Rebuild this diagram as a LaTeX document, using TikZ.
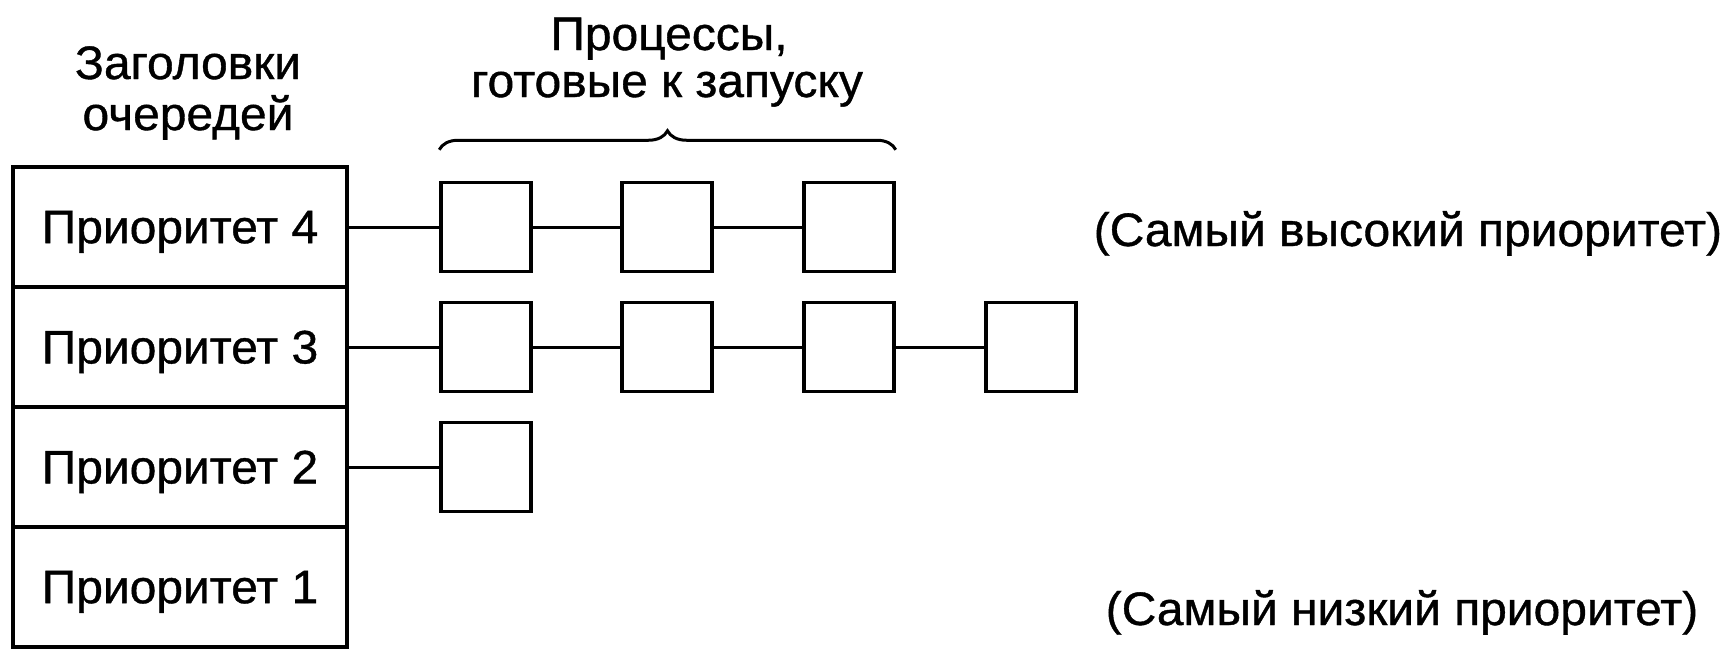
\documentclass[tikz,border=0pt]{standalone}
\usepackage{fontspec}
\setmainfont[FakeBold=0.8,FakeStretch=1.02]{Liberation Sans}
\usetikzlibrary{decorations.pathreplacing}
\begin{document}
\begin{tikzpicture}[x=1pt,y=-1pt,line width=3.5pt,
  hdr/.style={draw, minimum width=334pt, minimum height=120pt, inner sep=0pt,
              text depth=0pt, font=\fontsize{47}{56}\selectfont},
  proc/.style={draw, minimum width=90pt, minimum height=89pt, inner sep=0pt},
  lbl/.style={inner sep=0pt, font=\fontsize{47}{56}\selectfont},
  link/.style={line width=3pt},
  bracestyle/.style={line width=3pt, decorate, decoration={brace, amplitude=19pt}}]
\useasboundingbox[fill=white] (0,0) rectangle (1735,648);
% queue headers
\node[hdr] (p4) at (180,227) {Приоритет 4};
\node[hdr] (p3) at (180,347) {Приоритет 3};
\node[hdr] (p2) at (180,467) {Приоритет 2};
\node[hdr] (p1) at (180,587) {Приоритет 1};
% processes
\node[proc] (a1) at (486,227) {};
\node[proc] (a2) at (667,227) {};
\node[proc] (a3) at (849,227) {};
\node[proc] (b1) at (486,347) {};
\node[proc] (b2) at (667,347) {};
\node[proc] (b3) at (849,347) {};
\node[proc] (b4) at (1031,347) {};
\node[proc] (c1) at (486,467) {};
% links
\draw[link] (p4.east) -- (a1.west) (a1.east) -- (a2.west) (a2.east) -- (a3.west);
\draw[link] (p3.east) -- (b1.west) (b1.east) -- (b2.west) (b2.east) -- (b3.west) (b3.east) -- (b4.west);
\draw[link] (p2.east) -- (c1.west);
% brace
\coordinate (bl) at ([yshift=31pt]a1.north west);
\coordinate (br) at ([yshift=31pt]a3.north east);
\draw[bracestyle] (bl) -- (br);
% titles
\node[lbl, anchor=base] (h1) at (188,79) {Заголовки};
\node[lbl, anchor=base] (h2) at (188,130) {очередей};
\node[lbl, anchor=base] (r1) at (669,50) {Процессы,};
\node[lbl, anchor=base] (r2) at (667,97) {готовые к запуску};
% side notes
\node[lbl, anchor=base west] (hi) at (1092,246) {(Самый высокий приоритет)};
\node[lbl, anchor=base west] (lo) at (1104,625) {(Самый низкий приоритет)};
\end{tikzpicture}
\end{document}
